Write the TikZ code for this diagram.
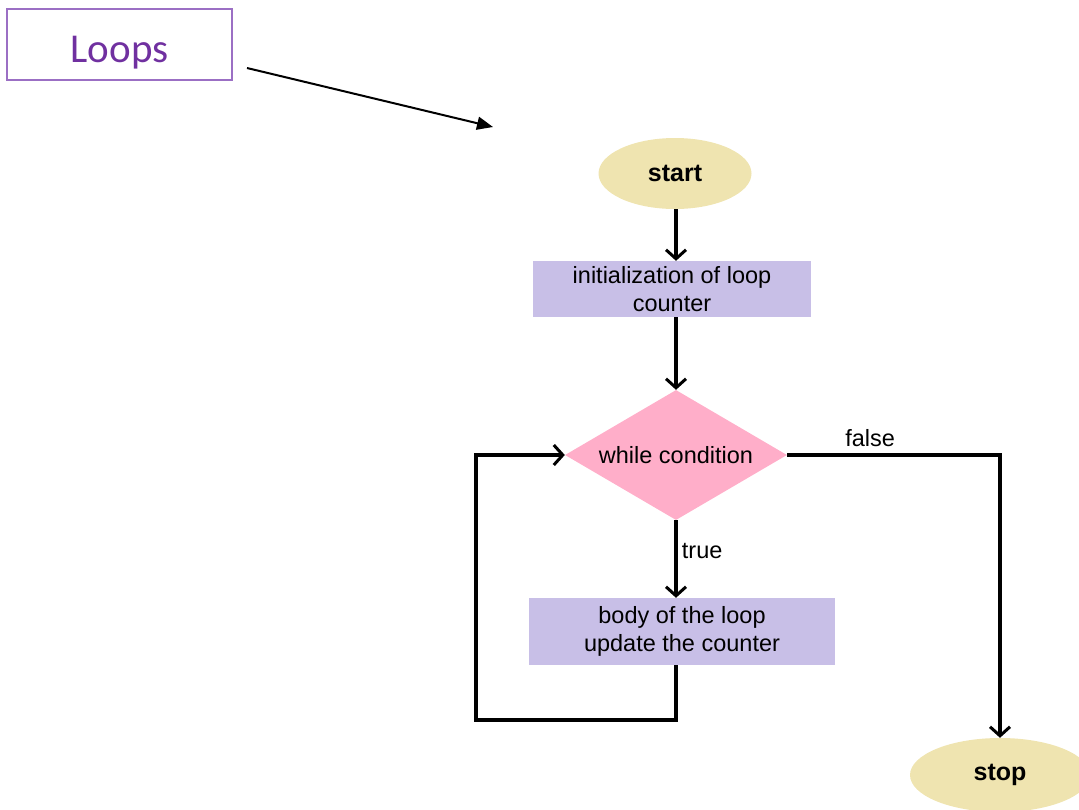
\documentclass[tikz,border=0pt]{standalone}
\usepackage{fontspec}
\setmainfont{Liberation Sans}
\newfontfamily\calibri{Carlito}
\usetikzlibrary{shapes.geometric,arrows.meta}
\definecolor{loopspurple}{HTML}{7030A0}
\definecolor{loopsborder}{HTML}{9B6FC4}
\definecolor{termfill}{HTML}{EFE4B0}
\definecolor{procfill}{HTML}{C8BFE7}
\definecolor{decfill}{HTML}{FFAEC9}
\tikzset{
  flowtext/.style={font=\fontsize{23.5}{28}\selectfont, text=black, align=center},
  terminal/.style={ellipse, fill=termfill, inner sep=0pt, font=\bfseries\fontsize{25}{30}\selectfont},
  procbox/.style={rectangle, fill=procfill, inner sep=0pt, flowtext},
  decision/.style={diamond, aspect=1.71, fill=decfill, inner sep=0pt, flowtext},
  flow/.style={draw=black, line width=3.2pt, -{Straight Barb[length=9pt,width=20pt,line width=3pt]}},
  pointer/.style={draw=black, line width=2pt, -{Triangle[length=16pt,width=13pt]}},
  labeltext/.style={font=\fontsize{23.5}{28}\selectfont}
}
\begin{document}
\begin{tikzpicture}[x=1pt,y=-1pt]
\useasboundingbox (0,0) rectangle (1079,809);
% title box
\node[draw=loopsborder, line width=1.3pt, minimum width=225pt, minimum height=71pt, inner sep=0pt,
      text height=35pt, text depth=0pt,
      text=loopspurple, font=\calibri\fontsize{41}{44}\selectfont] (loops) at (119.5,44.5) {Loops};
\coordinate (ptrA) at (247,68);
\coordinate (ptrB) at (493,127);
\draw[pointer] (ptrA) -- (ptrB);
% flowchart nodes
\node[terminal, minimum width=153pt, minimum height=71pt] (start) at (675,173.5) {start};
\node[procbox, minimum width=278pt, minimum height=56pt] (init) at (672,289) {initialization of loop\\counter};
\node[decision, minimum width=222pt, minimum height=130pt] (cond) at (676,455) {while condition};
\node[procbox, minimum width=306pt, minimum height=67pt] (body) at (682,631.5) {body of the loop\\update the counter};
\node[terminal, minimum width=180pt, minimum height=74pt] (stop) at (1000,775) {stop};
\coordinate (lb) at (476,720);
% connectors
\draw[flow] (start.south -| cond.north) -- (cond.north |- init.north);
\draw[flow] (cond.north |- init.south) -- (cond.north);
\draw[flow] (cond.south) -- node[pos=0.4, right, labeltext, xshift=1pt] {true} (cond.south |- body.north);
\draw[flow] (cond.east) -| node[pos=0.195, above, labeltext, yshift=3pt] {false} (stop.north);
\draw[flow] (cond.south |- body.south) |- (lb) |- (cond.west);
\end{tikzpicture}
\end{document}
